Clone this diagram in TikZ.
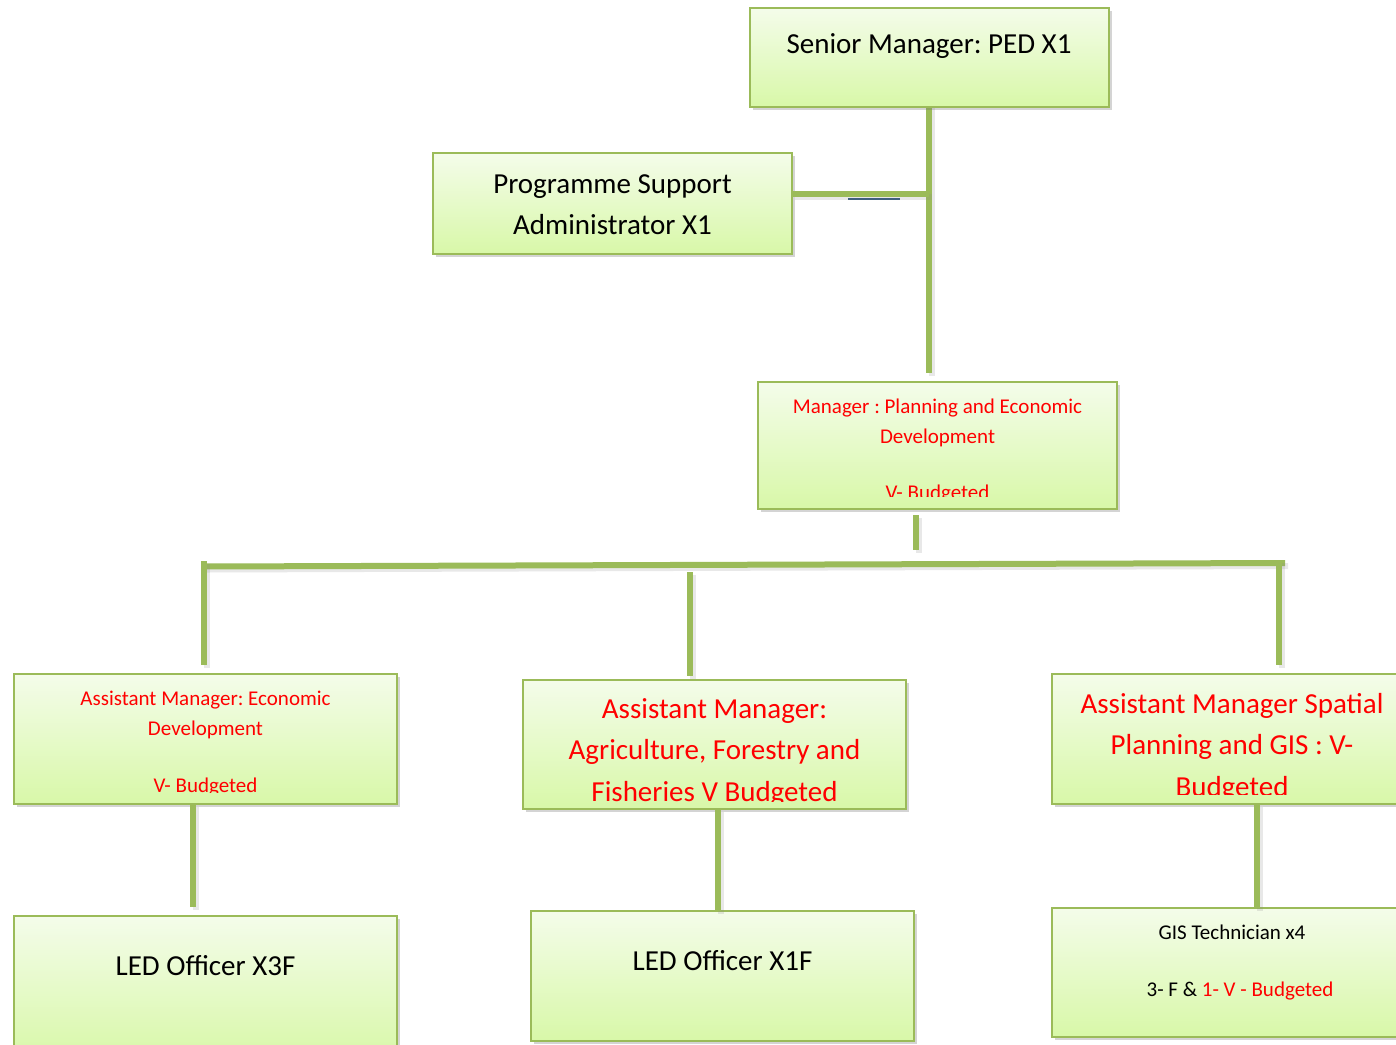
\documentclass[tikz,border=0pt]{standalone}
\usepackage{fontspec}
\setmainfont{Carlito}
\usetikzlibrary{shadows}
\definecolor{boxline}{HTML}{9BBB59}
\definecolor{boxtop}{HTML}{F4FCEA}
\definecolor{boxbot}{HTML}{D8F8A8}
\definecolor{redtxt}{HTML}{FF0000}
\definecolor{darkrule}{HTML}{3F5F7F}
\newcommand{\bigtxt}{\fontsize{29}{41}\selectfont\frenchspacing}
\newcommand{\smalltxt}{\fontsize{21}{30}\selectfont\frenchspacing}
\tikzset{
  orgbox/.style={draw=boxline, line width=2pt, rectangle, inner sep=0pt, outer sep=0pt,
    anchor=north west, top color=boxtop, bottom color=boxbot,
    drop shadow={shadow xshift=3pt, shadow yshift=-3pt, opacity=0.3, fill=black!55}},
  conn/.style={draw=boxline, line width=6pt,
    preaction={draw=black!45, opacity=0.2, line width=6pt, transform canvas={shift={(3pt,-3pt)}}}},
  lbl/.style={anchor=base, inner sep=0pt, align=center},
}
\begin{document}
\begin{tikzpicture}[x=1pt, y=-1pt]
\useasboundingbox (0,0) rectangle (1396,1044);
\fill[white] (0,0) rectangle (1396,1044);

% ---- connectors (drawn first, boxes sit on top) ----
\coordinate (senB) at (929,104);
\coordinate (senE) at (929,373);
\coordinate (progJ) at (929,194);
\coordinate (mgrB) at (916,515);
\coordinate (mgrE) at (916,550);
\coordinate (barL) at (204,566.5);
\coordinate (barR) at (1285,563);
\coordinate (dropL) at (204,561);
\coordinate (dropLe) at (204,665);
\coordinate (dropM) at (690,572);
\coordinate (dropMe) at (690,676);
\coordinate (dropR) at (1279,560);
\coordinate (dropRe) at (1279,665);
\coordinate (ruleA) at (848,199);
\coordinate (ruleB) at (900,199);

\draw[conn] (senB) -- (senE);
\draw[conn] (mgrB) -- (mgrE);
\draw[conn] (barL) -- (barR);
\draw[conn] (dropL) -- (dropLe);
\draw[conn] (dropM) -- (dropMe);
\draw[conn] (dropR) -- (dropRe);

% ---- boxes ----
\node[orgbox, minimum width=359pt, minimum height=99pt] (sen) at (750,8) {};
\node[orgbox, minimum width=359pt, minimum height=101pt] (prog) at (433,153) {};
\node[orgbox, minimum width=359pt, minimum height=127pt] (mgr) at (758,382) {};
\node[orgbox, minimum width=383pt, minimum height=130pt] (ame) at (14,674) {};
\node[orgbox, minimum width=383pt, minimum height=129pt] (ama) at (523,680) {};
\node[orgbox, minimum width=383pt, minimum height=130pt] (ams) at (1052,674) {};
\node[orgbox, minimum width=383pt, minimum height=144pt] (led3) at (14,916) {};
\node[orgbox, minimum width=383pt, minimum height=130pt] (led1) at (531,911) {};
\node[orgbox, minimum width=383pt, minimum height=129pt] (gis) at (1052,908) {};

% connectors that start at box edges
\draw[conn] (prog.east |- progJ) -- (progJ);
\draw[darkrule, line width=1.5pt] (ruleA) -- (ruleB);
\coordinate (ameJ) at (193,804);
\coordinate (amaJ) at (718,809);
\coordinate (amsJ) at (1257,804);
\draw[conn] (ameJ) -- (193,907);
\draw[conn] (amaJ) -- (718,911);
\draw[conn] (amsJ) -- (1257,908);

% ---- texts ----
\node[lbl, font=\bigtxt] (tsen) at (929,53) {Senior Manager: PED X1};
\node[lbl, font=\bigtxt] (tprog1) at (612.5,193) {Programme Support};
\node[lbl, font=\bigtxt] (tprog2) at (612.5,234) {Administrator X1};

\begin{scope}
  \clip (758,382) rectangle (1117,496);
  \node[lbl, font=\smalltxt, text=redtxt] (tmgr1) at (937.5,413) {Manager : Planning and Economic};
  \node[lbl, font=\smalltxt, text=redtxt] (tmgr2) at (937.5,443) {Development};
  \node[lbl, font=\smalltxt, text=redtxt] (tmgr3) at (937.5,499) {V- Budgeted};
\end{scope}

\begin{scope}
  \clip (14,674) rectangle (397,792);
  \node[lbl, font=\smalltxt, text=redtxt] (tame1) at (205.5,705) {Assistant Manager: Economic};
  \node[lbl, font=\smalltxt, text=redtxt] (tame2) at (205.5,735) {Development};
  \node[lbl, font=\smalltxt, text=redtxt] (tame3) at (205.5,792) {V- Budgeted};
\end{scope}

\begin{scope}
  \clip (523,680) rectangle (906,801);
  \node[lbl, font=\bigtxt, text=redtxt] (tama1) at (714.5,718) {Assistant Manager:};
  \node[lbl, font=\bigtxt, text=redtxt] (tama2) at (714.5,759) {Agriculture, Forestry and};
  \node[lbl, font=\bigtxt, text=redtxt] (tama3) at (714.5,801) {Fisheries V Budgeted};
\end{scope}

\begin{scope}
  \clip (1052,674) rectangle (1435,794);
  \node[lbl, font=\bigtxt, text=redtxt] (tams1) at (1232,713) {Assistant Manager Spatial};
  \node[lbl, font=\bigtxt, text=redtxt] (tams2) at (1232,754) {Planning and GIS : V-};
  \node[lbl, font=\bigtxt, text=redtxt] (tams3) at (1232,796) {Budgeted};
\end{scope}

\node[lbl, font=\bigtxt] (tled3) at (205.5,975) {LED Officer X3F};
\node[lbl, font=\bigtxt] (tled1) at (722.5,970) {LED Officer X1F};
\node[lbl, font=\smalltxt] (tgis1) at (1232,939) {GIS Technician x4};
\node[lbl, font=\smalltxt] (tgis2) at (1240,996) {3- F \& \textcolor{redtxt}{1- V - Budgeted}};
\end{tikzpicture}
\end{document}
